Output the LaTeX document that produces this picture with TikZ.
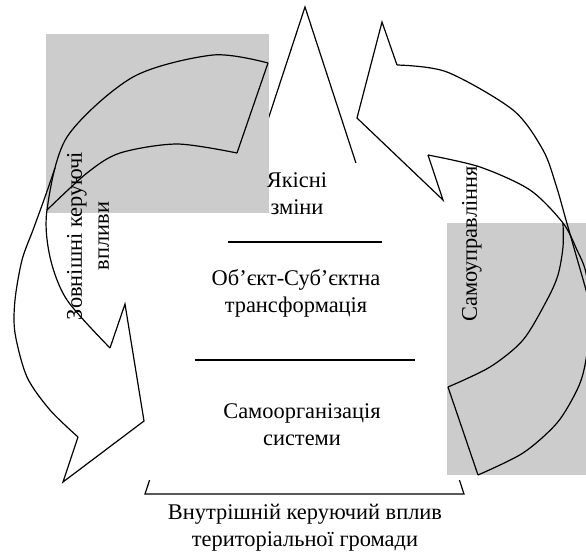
\documentclass[tikz,border=0pt]{standalone}
\usepackage{fontspec}
\setmainfont{Liberation Serif}
\usepackage{tikz}
\definecolor{panelgray}{gray}{0.8}

\begin{document}
\begin{tikzpicture}[x=0.5pt, y=-0.5pt, line width=0.6pt,
		txt/.style={align=center, inner sep=0pt, font=\fontsize{11.2}{13.5}\selectfont}]
	\useasboundingbox (0, 0) rectangle (586, 553);
	\clip (0, 0) rectangle (586, 553);

	% triangle, mostly hidden behind the text field
	\draw (145, 494) -- (305, 7) -- (464, 494) -- cycle;
	\fill[white] (146, 163) rectangle (462, 480);

	\fill[panelgray] (46, 34) rectangle (269, 213);
	\fill[panelgray] (447, 223) rectangle (590, 475);

	% left arrow
	\draw plot[smooth] coordinates {(268, 63) (213, 55) (133, 77) (67, 137) (47, 210) (50, 257) (67, 300) (110, 348)};
	\draw (268, 63) -- (237, 153);
	\draw plot[smooth] coordinates {(237, 153) (177, 144) (120, 153) (87, 173) (47, 210)};
	\draw plot[smooth] coordinates {(55, 168) (45, 197) (33, 230) (22, 260) (15, 300) (15, 333) (27, 377) (50, 410) (78, 437)};
	\draw (78, 437) -- (63, 482) -- (144, 421) -- (125, 304) -- (110, 348);

	% right arrow
	\draw (397, 65) -- (382, 22) -- (357, 118) -- (443, 200) -- (428, 155);
	\draw plot[smooth] coordinates {(428, 155) (480, 167) (530, 190) (563, 223) (577, 250) (586, 273) (591, 318) (585, 365) (577, 390) (557, 423) (523, 453) (478, 475)};
	\draw plot[smooth] coordinates {(397, 65) (447, 72) (513, 110) (543, 150) (556, 185) (566, 220) (576, 255) (586, 290) (595, 325)};
	\draw plot[smooth] coordinates {(563, 223) (563, 247) (558, 275) (547, 300) (523, 340) (490, 367) (448, 387)};
	\draw (448, 387) -- (478, 475);

	% separators
	\draw (228, 242) -- (382, 242);
	\draw (195, 360) -- (415, 360);

	\node[txt] (zminy) at (297, 194) {Якісні\\зміни};
	\node[txt] (transform) at (296, 293) {Об’єкт-Суб’єктна\\трансформація};
	\node[txt] (selforg) at (302, 425) {Самоорганізація\\системи};
	\node[txt] (inner) at (305, 528) {Внутрішній керуючий вплив\\територіальної громади};
	\node[txt, rotate=90] (outer) at (88, 236) {Зовнішні керуючі\\впливи};
	\node[txt, rotate=90] (selfgov) at (472, 244) {Самоуправління};
\end{tikzpicture}
\end{document}
